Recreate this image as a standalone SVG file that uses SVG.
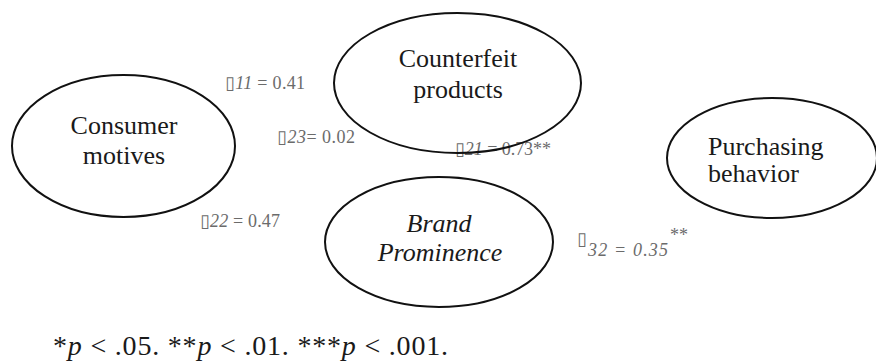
<svg xmlns="http://www.w3.org/2000/svg" width="876" height="361" viewBox="0 0 876 361" font-family="Liberation Serif, Times New Roman, DejaVu Serif, serif">
<style>
.node ellipse{fill:none;stroke:#111;stroke-width:2}
.nt{font-size:26px;fill:#1a1a1a}
.lb{font-size:18px;fill:#6b6b6b}
.it{font-style:italic}
.fn{font-size:28px;fill:#1a1a1a}
</style>
<rect width="876" height="361" fill="#fff"/>
<g id="labels">
<text class="lb" x="225" y="89" textLength="80"><tspan class="it">▯11</tspan> = 0.41</text>
<text class="lb" x="277" y="143" textLength="78"><tspan class="it">▯23</tspan>= 0.02</text>
<text class="lb" x="455" y="155" textLength="96"><tspan class="it">▯21</tspan> = 0.73**</text>
<text class="lb" x="200" y="227" textLength="80"><tspan class="it">▯22</tspan> = 0.47</text>
<text class="lb it" x="577" y="245">▯</text>
<text class="lb it" x="588" y="256" textLength="80">32 = 0.35</text>
<text class="lb" x="670" y="241" font-size="13">**</text>
</g>
<g id="consumer-motives" class="node">
<ellipse cx="123.5" cy="146" rx="111.5" ry="71"/>
<text class="nt" text-anchor="middle" x="124" y="134">Consumer</text>
<text class="nt" text-anchor="middle" x="124" y="164">motives</text>
</g>
<g id="counterfeit-products" class="node">
<ellipse cx="457.5" cy="83" rx="123.5" ry="70"/>
<text class="nt" text-anchor="middle" x="458" y="67">Counterfeit</text>
<text class="nt" text-anchor="middle" x="458" y="98">products</text>
</g>
<g id="purchasing-behavior" class="node">
<ellipse cx="772" cy="158" rx="105" ry="60"/>
<text class="nt" x="708" y="155">Purchasing</text>
<text class="nt" x="708" y="182">behavior</text>
</g>
<g id="brand-prominence" class="node">
<ellipse cx="439" cy="242" rx="114" ry="65"/>
<text class="nt it" text-anchor="middle" x="439" y="232">Brand</text>
<text class="nt it" text-anchor="middle" x="440" y="261">Prominence</text>
</g>
<g id="connectors"/>
<text class="fn" x="53" y="355" textLength="395">*<tspan class="it">p</tspan> &lt; .05. **<tspan class="it">p</tspan> &lt; .01. ***<tspan class="it">p</tspan> &lt; .001.</text>
</svg>
